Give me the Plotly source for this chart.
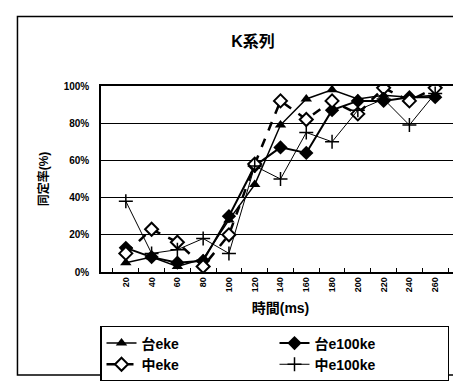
import plotly.graph_objects as go

categories = ["20", "40", "60", "80", "100", "120", "140", "160", "180", "200", "220", "240", "260"]
tai_eke = [0.05, 0.08, 0.03, 0.07, 0.28, 0.47, 0.79, 0.93, 0.98, 0.93, 0.95, 0.94, 0.95]
tai_e100ke = [0.13, 0.08, 0.05, 0.06, 0.30, 0.57, 0.67, 0.64, 0.87, 0.92, 0.92, 0.94, 0.94]
chu_eke = [0.10, 0.23, 0.16, 0.03, 0.20, 0.58, 0.92, 0.82, 0.92, 0.85, 0.99, 0.92, 0.99]
chu_e100ke = [0.38, 0.10, 0.12, 0.18, 0.10, 0.57, 0.50, 0.75, 0.70, 0.87, 0.93, 0.79, 0.96]
y_ticks = [0, 0.2, 0.4, 0.6, 0.8, 1.0]
y_labels = ["<b>0%</b>", "<b>20%</b>", "<b>40%</b>", "<b>60%</b>", "<b>80%</b>", "<b>100%</b>"]
x_labels = ["<b>" + c + "</b>" for c in categories]

FONT = "Liberation Sans, Noto Sans CJK JP, sans-serif"

fig = go.Figure()
fig.add_trace(go.Scatter(x=categories, y=tai_eke, name="<b>台eke</b>", mode="lines+markers",
                         line=dict(color="black", width=1.5),
                         marker=dict(symbol="triangle-up", size=10, color="black")))
fig.add_trace(go.Scatter(x=categories, y=tai_e100ke, name="<b>台e100ke</b>", mode="lines+markers",
                         line=dict(color="black", width=2),
                         marker=dict(symbol="diamond", size=11, color="black")))
fig.add_trace(go.Scatter(x=categories, y=chu_eke, name="<b>中eke</b>", mode="lines+markers",
                         line=dict(color="black", width=2.5, dash="dash"),
                         marker=dict(symbol="diamond", size=10, color="white",
                                     line=dict(color="black", width=2))))
fig.add_trace(go.Scatter(x=categories, y=chu_e100ke, name="<b>中e100ke</b>", mode="lines+markers",
                         line=dict(color="black", width=1),
                         marker=dict(symbol="cross-thin", size=10,
                                     line=dict(color="black", width=1.5))))

L, R, T, B = 93, 454, 78, 271
W, H = R - L, B - T

def px(x):
    return (x - L) / W

def py(y):
    return (B - y) / H

fig.add_shape(type="rect", xref="paper", yref="paper",
              x0=px(9), x1=px(458), y0=py(378), y1=py(6),
              line=dict(color="black", width=1.5), layer="below")

fig.update_layout(
    width=461, height=381,
    margin=dict(l=L, r=461 - R, t=T, b=381 - B),
    paper_bgcolor="white", plot_bgcolor="white",
    font=dict(family=FONT, color="black"),
    title=dict(text="<b>K系列</b>", x=245 / 461, xanchor="center",
               y=1 - 33 / 381, yanchor="middle", font=dict(size=16, color="black")),
    showlegend=True,
    legend=dict(orientation="h", x=px(92), y=py(327), xanchor="left", yanchor="top",
                bordercolor="black", borderwidth=1.5, bgcolor="white",
                entrywidth=128, entrywidthmode="pixels",
                font=dict(size=14, family=FONT, color="black"), tracegroupgap=0),
    xaxis=dict(type="category", categoryarray=categories, tickangle=-90,
               tickvals=categories, ticktext=x_labels,
               tickfont=dict(size=9, color="black"), showgrid=False, showline=True,
               linecolor="black", linewidth=1.5, mirror=True,
               ticks="inside", ticklen=4, tickcolor="black", tickson="boundaries",
               title=dict(text="<b>時間(ms)</b>", font=dict(size=14, color="black"), standoff=12)),
    yaxis=dict(range=[0, 1], tickvals=y_ticks, ticktext=y_labels,
               tickfont=dict(size=10, color="black"), showgrid=True, gridcolor="black", gridwidth=1.2,
               showline=True, linecolor="black", linewidth=1.5, mirror=True,
               ticks="", zeroline=False, ticklabelstandoff=8,
               title=dict(text="<b>同定率(%)</b>", font=dict(size=12, color="black"), standoff=12)),
)

fig.write_html("out.html")
